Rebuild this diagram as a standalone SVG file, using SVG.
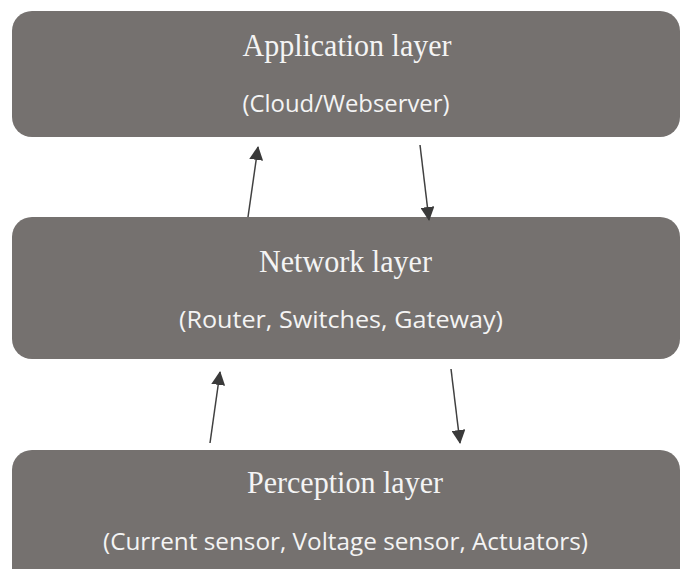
<svg xmlns="http://www.w3.org/2000/svg" width="686" height="569" viewBox="0 0 686 569">
<defs>
<style>
.box{fill:#75716f;}
.t{font-family:"Liberation Serif","Times New Roman",serif;font-size:31px;fill:#f4f4f4;text-anchor:middle;}
.s{font-family:"Open Sans","Noto Sans","Liberation Sans",sans-serif;font-size:24px;fill:#f4f4f4;text-anchor:middle;}
.c{stroke:#404040;stroke-width:1.5;fill:none;marker-end:url(#ah);}
</style>
<marker id="ah" markerUnits="userSpaceOnUse" markerWidth="14" markerHeight="14" refX="13" refY="7" orient="auto">
<path d="M0,0 L14,7 L0,14 Z" fill="#3a3a3a"/>
</marker>
</defs>
<rect width="686" height="569" fill="#ffffff"/>
<g id="application">
<rect class="box" x="12" y="11" width="668" height="126" rx="20" ry="20"/>
<text class="t" x="347" y="56" textLength="209" lengthAdjust="spacingAndGlyphs">Application layer</text>
<text class="s" x="346" y="112" textLength="207" lengthAdjust="spacingAndGlyphs">(Cloud/Webserver)</text>
</g>
<g id="network">
<rect class="box" x="12" y="217" width="668" height="142" rx="20" ry="20"/>
<text class="t" x="345.5" y="272" textLength="173" lengthAdjust="spacingAndGlyphs">Network layer</text>
<text class="s" x="341" y="328" textLength="324" lengthAdjust="spacingAndGlyphs">(Router, Switches, Gateway)</text>
</g>
<g id="perception">
<rect class="box" x="12" y="450" width="668" height="140" rx="20" ry="20"/>
<text class="t" x="345" y="493" textLength="196" lengthAdjust="spacingAndGlyphs">Perception layer</text>
<text class="s" x="345.5" y="550" textLength="485" lengthAdjust="spacingAndGlyphs">(Current sensor, Voltage sensor, Actuators)</text>
</g>
<g id="connectors">
<line class="c" x1="248" y1="217" x2="258" y2="147"/>
<line class="c" x1="420" y1="145" x2="429" y2="220"/>
<line class="c" x1="210" y1="443" x2="220" y2="372"/>
<line class="c" x1="451" y1="369" x2="460" y2="443"/>
</g>
</svg>
